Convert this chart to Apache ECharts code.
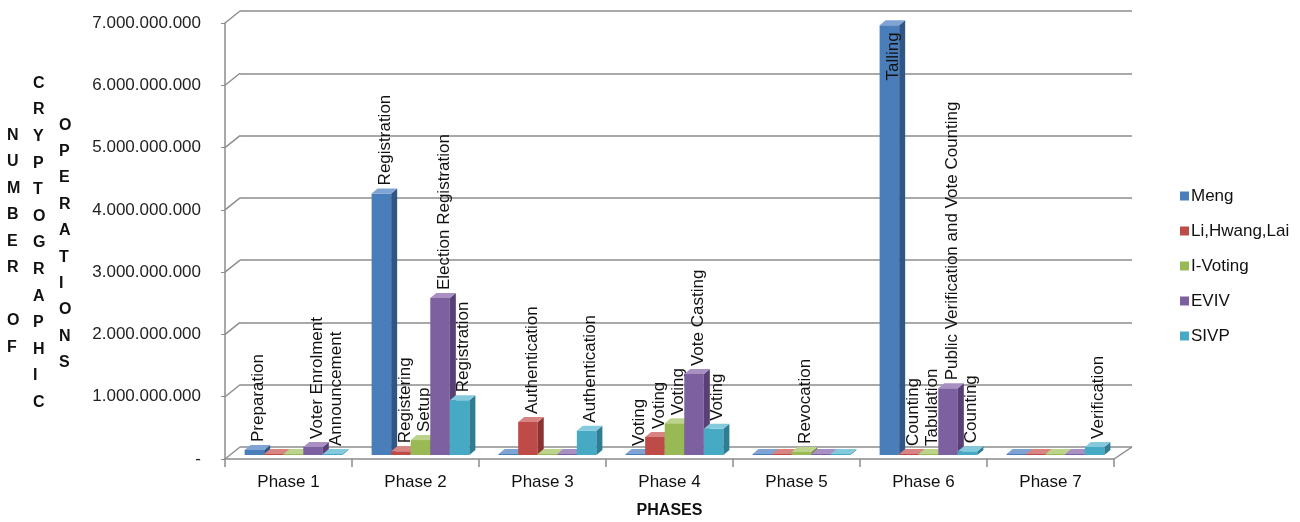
<!DOCTYPE html>
<html>
<head>
<meta charset="utf-8">
<script src="https://cdn.jsdelivr.net/npm/echarts@6/dist/echarts.min.js"></script>
<style>
  html, body { margin: 0; padding: 0; background: #fff; }
  #chart { width: 1300px; height: 522px; }
</style>
</head>
<body>
<div id="chart"></div>
<script>
var categories = ['Phase 1', 'Phase 2', 'Phase 3', 'Phase 4', 'Phase 5', 'Phase 6', 'Phase 7'];
var seriesNames = ['Meng', 'Li,Hwang,Lai', 'I-Voting', 'EVIV', 'SIVP'];

var meng       = [80000000, 4200000000, 0, 10000000, 0, 6900000000, 0];
var liHwangLai = [0, 60000000, 530000000, 290000000, 0, 10000000, 0];
var iVoting    = [0, 240000000, 0, 510000000, 50000000, 10000000, 0];
var eviv       = [130000000, 2520000000, 0, 1300000000, 0, 1070000000, 0];
var sivp       = [0, 880000000, 390000000, 420000000, 0, 60000000, 130000000];

var mengLabels  = ['Preparation', 'Registration', '', 'Voting', '', 'Talling', ''];
var liLabels    = ['', 'Registering', 'Authentication', 'Voting', '', 'Counting', ''];
var iVotLabels  = ['', 'Setup', '', 'Voting', 'Revocation', 'Tabulation', ''];
var evivLabels  = ['Voter Enrolment', 'Election Registration', '', 'Vote Casting', '', 'Public Verification and Vote Counting', ''];
var sivpLabels  = ['Announcement', 'Registration', 'Authentication', 'Voting', '', 'Counting', 'Verification'];

var yMax = 7000000000;
var yStep = 1000000000;

var allValues = [meng, liHwangLai, iVoting, eviv, sivp];
var allLabels = [mengLabels, liLabels, iVotLabels, evivLabels, sivpLabels];

// colours: front, side, top
var colors = [
    ['#4A7EBB', '#2F5686', '#7FA4D3'],
    ['#BE4B48', '#8A3331', '#D88482'],
    ['#98B954', '#6E883B', '#BCD38C'],
    ['#7D60A0', '#583F75', '#A891C2'],
    ['#46AAC5', '#2E7D92', '#85CADC']
];

var FONT = 'Liberation Sans';
var GRID_COLOR = '#8c8c8c';
var myChart = echarts.init(document.getElementById('chart'));

function fmtNum(v) {
    if (v === 0) return '-';
    return String(v).replace(/\B(?=(\d{3})+(?!\d))/g, '.');
}

function makeRender(s) {
    return function (params, api) {
        var i = api.value(0), v = api.value(1);
        var c = api.coord([i, 0]);
        var t = api.coord([i, v]);
        var cw = api.size([1, 0])[0];
        var bw = cw * 0.154;
        var x0 = c[0] - 2.5 * bw + s * bw, x1 = x0 + bw;
        var base = c[1];
        var top = Math.min(t[1], base - 1);
        var dx = 6, dy = 5;
        var col = colors[s];
        var children = [
            { type: 'rect', shape: { x: x0, y: top, width: bw, height: base - top }, style: { fill: col[0] } },
            { type: 'polygon', shape: { points: [[x1, top], [x1 + dx, top - dy], [x1 + dx, base - dy], [x1, base]] }, style: { fill: col[1] } },
            { type: 'polygon', shape: { points: [[x0, top], [x0 + dx, top - dy], [x1 + dx, top - dy], [x1, top]] }, style: { fill: col[2] } }
        ];
        var txt = allLabels[s][i];
        if (txt) {
            // the tallest bar carries its label inside, like the original
            var inside = top < params.coordSys.y + 60;
            children.push({
                type: 'text',
                x: (x0 + x1) / 2 + 4,
                y: inside ? top + 7 : top - dy - 3,
                rotation: Math.PI / 2,
                style: {
                    text: txt,
                    fontSize: 17,
                    fontFamily: FONT,
                    fill: '#111',
                    align: inside ? 'right' : 'left',
                    verticalAlign: 'middle'
                }
            });
        }
        return { type: 'group', children: children };
    };
}

// layout of the pseudo-3D box
var front = { left: 225, right: 186, top: 23, bottom: 63 };
var back = { left: 240, right: 168, top: 11, bottom: 75 };
var bars = { left: 230, right: 181, top: 19, bottom: 67 };

var series = seriesNames.map(function (name, s) {
    return {
        name: name,
        type: 'custom',
        xAxisIndex: 2,
        yAxisIndex: 2,
        itemStyle: { color: colors[s][0] },
        renderItem: makeRender(s),
        encode: { x: 0, y: 1 },
        data: allValues[s].map(function (v, i) { return [i, v]; })
    };
});

function gridOf(g) {
    return { left: g.left, right: g.right, top: g.top, bottom: g.bottom, outerBoundsMode: 'none', containLabel: false };
}

var option = {
    animation: false,
    backgroundColor: '#fff',
    textStyle: { fontFamily: FONT },
    legend: {
        orient: 'vertical',
        left: 1175,
        top: 182,
        itemGap: 17,
        itemWidth: 9,
        itemHeight: 9,
        icon: 'rect',
        textStyle: { fontSize: 17, lineHeight: 18, color: '#111', fontFamily: FONT, padding: [0, 0, 0, -3] },
        data: seriesNames
    },
    grid: [gridOf(back), gridOf(front), gridOf(bars)],
    xAxis: [
        { gridIndex: 0, type: 'category', data: categories, show: false },
        {
            gridIndex: 1, type: 'category', data: categories,
            axisLine: { lineStyle: { color: GRID_COLOR, width: 1.5 } },
            axisTick: { show: true, length: 8, lineStyle: { color: GRID_COLOR, width: 1.5 } },
            axisLabel: { fontSize: 17, color: '#111', margin: 15, fontFamily: FONT },
            name: 'PHASES',
            nameLocation: 'middle',
            nameGap: 44,
            nameTextStyle: { fontSize: 16, fontWeight: 'bold', color: '#111', fontFamily: FONT }
        },
        { gridIndex: 2, type: 'category', data: categories, show: false }
    ],
    yAxis: [
        {
            gridIndex: 0, type: 'value', min: 0, max: yMax, interval: yStep,
            axisLine: { show: false }, axisTick: { show: false }, axisLabel: { show: false },
            splitLine: { show: true, lineStyle: { color: GRID_COLOR, width: 1.5 } }
        },
        {
            gridIndex: 1, type: 'value', min: 0, max: yMax, interval: yStep,
            axisLine: { show: true, lineStyle: { color: GRID_COLOR, width: 1.5 } },
            axisTick: { show: true, length: 4, lineStyle: { color: GRID_COLOR } },
            splitLine: { show: false },
            axisLabel: { fontSize: 17, color: '#222', margin: 24, fontFamily: FONT, formatter: fmtNum }
        },
        { gridIndex: 2, type: 'value', min: 0, max: yMax, show: false, splitLine: { show: false } }
    ],
    graphic: [
        {
            type: 'text', left: 7, top: 122,
            style: { text: 'N\nU\nM\nB\nE\nR\n\nO\nF', fontSize: 16, fontWeight: 'bold', fontFamily: FONT, fill: '#111', lineHeight: 26.5, align: 'center' }
        },
        {
            type: 'text', left: 33, top: 70,
            style: { text: 'C\nR\nY\nP\nT\nO\nG\nR\nA\nP\nH\nI\nC', fontSize: 16, fontWeight: 'bold', fontFamily: FONT, fill: '#111', lineHeight: 26.6, align: 'center' }
        },
        {
            type: 'text', left: 59, top: 112,
            style: { text: 'O\nP\nE\nR\nA\nT\nI\nO\nN\nS', fontSize: 16, fontWeight: 'bold', fontFamily: FONT, fill: '#111', lineHeight: 26.4, align: 'center' }
        }
    ],
    series: series
};
myChart.setOption(option, true);

// connectors between the front axis and the back wall
var yTicks = [];
for (var v = 0; v <= yMax; v += yStep) yTicks.push(v);
var connectors = yTicks.map(function (val) {
    var yf = myChart.convertToPixel({ yAxisIndex: 1 }, val);
    var yb = myChart.convertToPixel({ yAxisIndex: 0 }, val);
    return {
        type: 'line',
        shape: { x1: front.left, y1: yf, x2: back.left, y2: yb },
        style: { stroke: GRID_COLOR, lineWidth: 1.5 }
    };
});
var y0f = myChart.convertToPixel({ yAxisIndex: 1 }, 0);
var y0b = myChart.convertToPixel({ yAxisIndex: 0 }, 0);
connectors.push({
    type: 'line',
    shape: { x1: 1300 - front.right, y1: y0f, x2: 1300 - back.right, y2: y0b },
    style: { stroke: GRID_COLOR, lineWidth: 1.5 }
});
myChart.setOption({ graphic: option.graphic.concat(connectors) });
</script>
</body>
</html>
